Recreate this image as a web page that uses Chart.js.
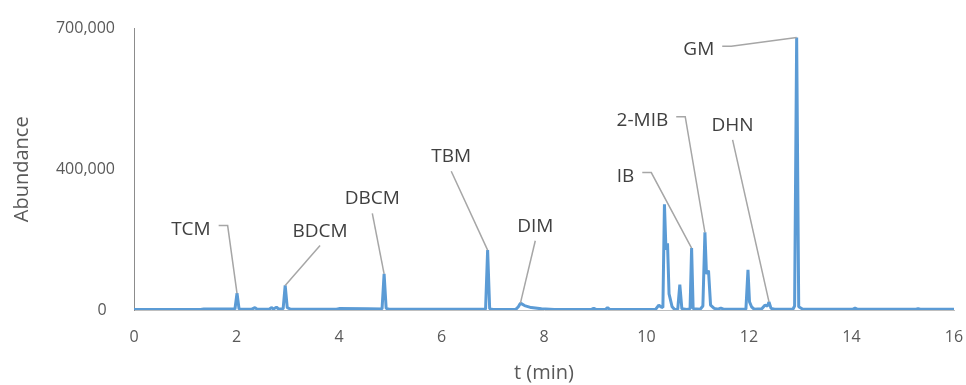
<!DOCTYPE html>
<html>
<head>
<meta charset="utf-8">
<script src="https://cdn.jsdelivr.net/npm/chart.js@4.4.1/dist/chart.umd.min.js"></script>
<style>
  html, body { margin: 0; background: #fff; }
  #wrap { width: 966px; height: 385px; }
</style>
</head>
<body>
<div id="wrap"><canvas id="chart" width="966" height="385"></canvas></div>
<script>
// chromatogram trace (t in min, abundance in counts)
const retentionTime = [
  0.00, 1.30, 1.36, 1.97, 2.01, 2.05, 2.30, 2.36, 2.40, 2.64, 2.68, 2.72, 2.78, 2.82,
  2.91, 2.95, 2.99, 3.05, 3.20, 3.95, 4.00, 4.55, 4.84, 4.88, 4.92, 4.98, 6.86, 6.90,
  6.94, 7.00, 7.45, 7.50, 7.54, 7.62, 7.75, 7.95, 8.20, 8.93, 8.97, 9.01, 9.20, 9.24,
  9.28, 10.18, 10.24, 10.28, 10.32, 10.35, 10.38, 10.41, 10.44, 10.50, 10.55, 10.61,
  10.65, 10.69, 10.79, 10.85, 10.88, 10.91, 11.05, 11.10, 11.14, 11.17, 11.21, 11.25,
  11.32, 11.40, 11.45, 11.50, 11.94, 11.98, 12.01, 12.05, 12.10, 12.25, 12.31, 12.36,
  12.39, 12.43, 12.50, 12.86, 12.89, 12.93, 12.97, 13.05, 14.03, 14.07, 14.11, 15.26,
  15.30, 15.34, 16.00
];
const abundance = [
  1500, 1500, 2500, 2500, 41500, 2500, 2000, 6000, 2000, 2000, 6000, 2500, 7000, 2500,
  3000, 61000, 6000, 2500, 2000, 2000, 3500, 3000, 2500, 90000, 4000, 2000, 2000, 149000,
  3000, 1500, 1500, 8000, 17000, 11000, 6000, 3000, 1500, 1500, 4500, 1500, 1500, 6000,
  1500, 2000, 12000, 8000, 6000, 263000, 150000, 166000, 40000, 8000, 1000, 2000,
  63000, 3000, 1500, 3000, 154000, 3000, 2000, 10000, 193000, 90000, 98000, 12000,
  4000, 2000, 5000, 2000, 2000, 100000, 20000, 8000, 2000, 3000, 12000, 10000,
  20000, 4000, 2000, 2500, 10000, 678000, 8000, 2000, 2000, 4500, 2000, 2000,
  3500, 2000, 2000
];

const xTicks = [0, 2, 4, 6, 8, 10, 12, 14, 16];
const yTickLabels = ['0', '400,000', '700,000'];

// labelled compounds and the retention time of their peak
const peakNames = ['TCM', 'BDCM', 'DBCM', 'TBM', 'DIM', 'IB', '2-MIB', 'DHN', 'GM'];
const peakTimes = [2.01, 2.95, 4.88, 6.90, 7.54, 10.88, 11.14, 12.39, 12.93];

// where each callout label sits (data units) and where its leader leaves it
const calloutLayout = [
  { t: 1.11, v: 205000, side: 'right' },
  { t: 3.63, v: 200000, side: 'bottom' },
  { t: 4.65, v: 280000, side: 'bottom' },
  { t: 6.19, v: 385000, side: 'bottom' },
  { t: 7.83, v: 212000, side: 'bottom' },
  { t: 9.59, v: 337000, side: 'right' },
  { t: 9.92, v: 476000, side: 'right' },
  { t: 11.68, v: 463000, side: 'bottom' },
  { t: 11.02, v: 651000, side: 'right' }
];

const FONT = '"Open Sans", "DejaVu Sans", sans-serif';

const calloutPlugin = {
  id: 'callouts',
  afterDatasetsDraw(chart) {
    const { ctx, scales: { x, y } } = chart;
    ctx.save();
    ctx.font = '19px ' + FONT;
    peakNames.forEach((name, i) => {
      const idx = retentionTime.indexOf(peakTimes[i]);
      const px = x.getPixelForValue(retentionTime[idx]);
      const py = y.getPixelForValue(abundance[idx]);
      const c = calloutLayout[i];
      const cx = x.getPixelForValue(c.t);
      const cy = y.getPixelForValue(c.v);
      const w = ctx.measureText(name).width;

      ctx.strokeStyle = '#a6a6a6';
      ctx.lineWidth = 1.5;
      ctx.beginPath();
      if (c.side === 'right') {
        const sx = cx + w / 2 + 8, sy = cy - 2;
        ctx.moveTo(sx, sy);
        ctx.lineTo(sx + 9, sy);
        ctx.lineTo(px, py);
      } else {
        ctx.moveTo(cx, cy + 16);
        ctx.lineTo(px, py);
      }
      ctx.stroke();

      ctx.fillStyle = '#404040';
      ctx.textAlign = 'center';
      ctx.textBaseline = 'alphabetic';
      ctx.fillText(name, cx, cy + 7);
    });
    ctx.restore();
  }
};

const ctx = document.getElementById('chart').getContext('2d');
new Chart(ctx, {
  type: 'line',
  data: {
    datasets: [{
      data: retentionTime.map((t, i) => ({ x: t, y: abundance[i] })),
      borderColor: '#5b9bd5',
      borderWidth: 3,
      borderJoinStyle: 'bevel',
      pointRadius: 0,
      tension: 0,
      fill: false
    }]
  },
  options: {
    responsive: false,
    animation: false,
    layout: { padding: { left: 0, right: 12, top: 23, bottom: 0 } },
    plugins: { legend: { display: false }, tooltip: { enabled: false } },
    scales: {
      x: {
        type: 'linear',
        min: 0,
        max: 16,
        afterBuildTicks: s => { s.ticks = xTicks.map(v => ({ value: v })); },
        afterFit: s => { s.height = 75; s.paddingLeft = 0; s.paddingRight = 0; },
        grid: { display: false, drawTicks: false },
        border: { display: true, color: '#bfbfbf', width: 1 },
        ticks: {
          padding: 18,
          color: '#595959',
          font: { family: FONT, size: 16 },
          maxRotation: 0
        },
        title: {
          display: true,
          text: 't (min)',
          color: '#595959',
          font: { family: FONT, size: 20 },
          padding: { top: 0, bottom: 0 }
        }
      },
      y: {
        min: 0,
        max: 700000,
        afterBuildTicks: s => {
          s.ticks = yTickLabels.map((_, i) => ({ value: i * 350000 }));
        },
        afterFit: s => { s.width = 134; },
        grid: { display: false, drawTicks: false },
        border: { display: true, color: '#8c8c8c', width: 1 },
        ticks: {
          padding: 19,
          color: '#595959',
          font: { family: FONT, size: 16 },
          // the zero label sits a little further from the axis in the original
          callback: (value, index) => index === 0 ? yTickLabels[index] + '  ' : yTickLabels[index]
        },
        title: {
          display: true,
          text: 'Abundance',
          color: '#595959',
          font: { family: FONT, size: 20 },
          padding: { top: 10, bottom: 0 }
        }
      }
    }
  },
  plugins: [calloutPlugin]
});
</script>
</body>
</html>
